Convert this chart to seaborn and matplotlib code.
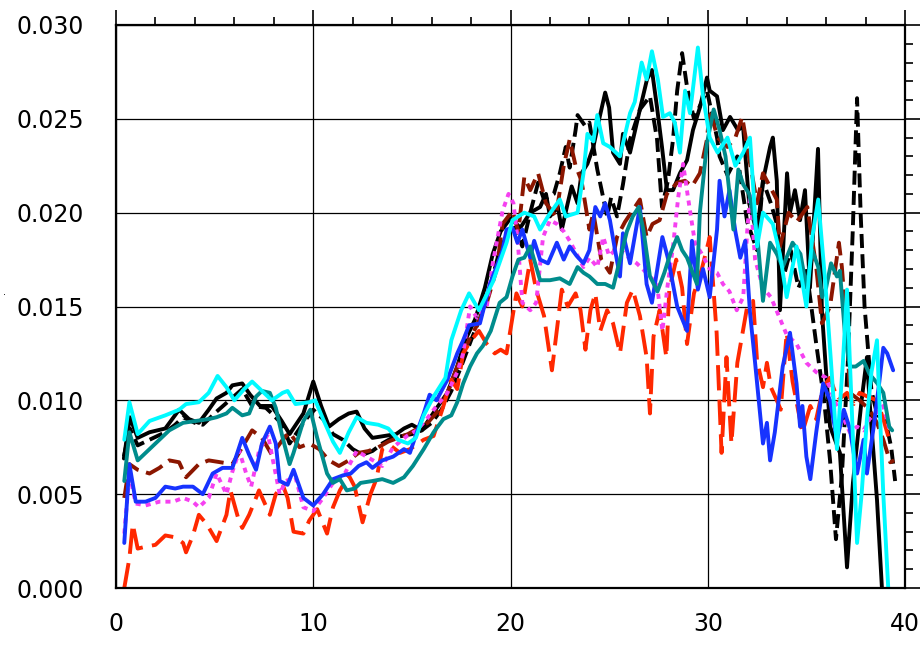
import matplotlib
matplotlib.use("Agg")
import matplotlib.pyplot as plt
from matplotlib.ticker import MultipleLocator, FormatStrFormatter
import seaborn as sns

# (x, value) samples for each curve
black_solid = [
    (0.4, 0.0069), (0.7, 0.0091), (1.1, 0.0080), (1.7, 0.0083), (2.5, 0.0085), (3.2, 0.0095),
    (3.7, 0.0090), (4.2, 0.0088), (4.7, 0.0095), (5.1, 0.0101), (5.6, 0.0104), (5.9, 0.0108),
    (6.4, 0.0109), (6.8, 0.0103), (7.3, 0.0097), (7.9, 0.0097), (8.4, 0.0089), (8.8, 0.0082),
    (9.5, 0.0093), (10.0, 0.0110), (10.4, 0.0097), (10.8, 0.0086), (11.3, 0.0090), (11.8, 0.0093),
    (12.2, 0.0094), (12.6, 0.0085), (13.0, 0.0080), (13.6, 0.0081), (14.2, 0.0082), (14.6, 0.0085),
    (15.0, 0.0087), (15.5, 0.0084), (16.2, 0.0095), (16.8, 0.0104), (17.3, 0.0118), (17.7, 0.0132),
    (18.2, 0.0143), (18.7, 0.0160), (19.1, 0.0178), (19.5, 0.0190), (20.0, 0.0197), (20.5, 0.0192),
    (21.0, 0.0200), (21.5, 0.0203), (21.8, 0.0210), (22.0, 0.0198), (22.4, 0.0203), (22.6, 0.0191),
    (22.9, 0.0205), (23.1, 0.0214), (23.4, 0.0205), (23.6, 0.0221), (23.9, 0.0226), (24.2, 0.0235),
    (24.5, 0.0250), (24.8, 0.0264), (25.0, 0.0256), (25.2, 0.0232), (25.55, 0.0226), (25.7, 0.0242),
    (26.06, 0.0232), (26.56, 0.0255), (26.92, 0.0271), (27.17, 0.0276), (27.43, 0.0256), (27.68, 0.0235),
    (27.93, 0.0212), (28.24, 0.0212), (28.59, 0.0221), (28.95, 0.0228), (29.25, 0.0244), (29.6, 0.0256),
    (29.96, 0.0272), (30.1, 0.0265), (30.47, 0.0262), (30.77, 0.0244), (31.13, 0.0251), (31.53, 0.0244),
    (31.79, 0.0246), (32.1, 0.0205), (32.5, 0.0189), (32.8, 0.0217), (33.16, 0.0235), (33.3, 0.0240),
    (33.5, 0.0217), (33.66, 0.0148), (34.02, 0.0221), (34.17, 0.0200), (34.42, 0.0212), (34.68, 0.0196),
    (34.93, 0.0212), (35.18, 0.0160), (35.59, 0.0234), (35.79, 0.0147), (36.0, 0.0115), (36.2, 0.0086),
    (36.7, 0.0072), (37.06, 0.0011), (37.36, 0.0056), (37.8, 0.0100), (38.07, 0.0123), (38.2, 0.0100),
    (38.58, 0.0047), (38.83, 0.0),
]

black_dashed = [
    (0.4, 0.0070), (0.7, 0.0085), (1.1, 0.0076), (1.7, 0.0079), (2.5, 0.0083), (3.0, 0.0087),
    (3.4, 0.0091), (4.0, 0.0088), (4.4, 0.0087), (5.1, 0.0094), (5.75, 0.0100), (6.4, 0.0106),
    (6.9, 0.0097), (7.6, 0.0096), (7.9, 0.0093), (8.45, 0.0087), (8.8, 0.0077), (9.5, 0.0088),
    (10.0, 0.0095), (10.5, 0.0090), (11.0, 0.0082), (11.5, 0.0079), (12.0, 0.0074), (12.5, 0.0071),
    (13.0, 0.0073), (13.5, 0.0077), (14.0, 0.0080), (14.5, 0.0081), (15.0, 0.0082), (15.5, 0.0084),
    (16.0, 0.0088), (16.5, 0.0095), (17.0, 0.0105), (17.5, 0.0118), (18.0, 0.0132), (18.5, 0.0145),
    (19.0, 0.0162), (19.4, 0.0178), (19.8, 0.0188), (20.2, 0.0192), (20.6, 0.0182), (21.0, 0.0200),
    (21.4, 0.0216), (21.7, 0.0207), (22.2, 0.0210), (22.5, 0.0221), (22.8, 0.0235), (23.0, 0.0224),
    (23.3, 0.0244), (23.4, 0.0252), (23.8, 0.0246), (24.0, 0.0248), (24.4, 0.0223), (24.7, 0.0208),
    (24.9, 0.0198), (25.1, 0.0208), (25.4, 0.0198), (25.7, 0.0215), (26.06, 0.0239), (26.56, 0.0255),
    (27.07, 0.0262), (27.43, 0.0239), (27.68, 0.0203), (27.98, 0.0217), (28.24, 0.0239), (28.45, 0.0265),
    (28.7, 0.0285), (28.95, 0.0267), (29.3, 0.0250), (29.96, 0.0265), (30.47, 0.0240), (30.6, 0.0230),
    (31.0, 0.0220), (31.5, 0.0230), (32.0, 0.0195), (32.5, 0.0180), (32.8, 0.0217), (33.2, 0.0205),
    (33.5, 0.0194), (33.8, 0.0164), (34.2, 0.0180), (34.6, 0.0160), (35.0, 0.0170), (35.5, 0.0130),
    (35.9, 0.0100), (36.2, 0.0068), (36.5, 0.0026), (36.8, 0.0060), (37.1, 0.0120), (37.35, 0.0190),
    (37.57, 0.0261), (37.75, 0.0200), (37.95, 0.0150), (38.3, 0.0105), (38.6, 0.0092), (39.0, 0.0090),
    (39.3, 0.0075), (39.5, 0.0057),
]

cyan_solid = [
    (0.42, 0.0079), (0.68, 0.0099), (1.1, 0.0082), (1.7, 0.0089), (2.5, 0.0092), (3.2, 0.0095),
    (3.55, 0.0098), (4.2, 0.0099), (4.7, 0.0104), (5.15, 0.0113), (5.6, 0.0107), (6.0, 0.0100),
    (6.5, 0.0106), (6.9, 0.0110), (7.4, 0.0105), (7.9, 0.0100), (8.45, 0.0104), (8.7, 0.0105),
    (9.1, 0.0098), (9.8, 0.0099), (10.1, 0.0100), (10.5, 0.0090), (11.0, 0.0078), (11.35, 0.0072),
    (11.8, 0.0083), (12.2, 0.0091), (12.7, 0.0088), (13.3, 0.0087), (13.8, 0.0085), (14.3, 0.0079),
    (14.8, 0.0077), (15.2, 0.0080), (15.6, 0.0092), (16.1, 0.0102), (16.7, 0.0112), (17.0, 0.0132),
    (17.5, 0.0148), (17.9, 0.0157), (18.4, 0.0148), (19.1, 0.0163), (19.8, 0.0184), (20.1, 0.0196),
    (20.7, 0.0200), (21.2, 0.0198), (21.5, 0.0191), (21.9, 0.0198), (22.5, 0.0207), (22.8, 0.0198),
    (23.4, 0.0200), (23.7, 0.0221), (23.9, 0.0242), (24.2, 0.0238), (24.4, 0.0252), (24.7, 0.0237),
    (25.04, 0.0235), (25.55, 0.0230), (26.06, 0.0253), (26.3, 0.0259), (26.65, 0.0280), (26.9, 0.0271),
    (27.17, 0.0286), (27.47, 0.0271), (27.73, 0.0251), (28.08, 0.0253), (28.33, 0.0248), (28.59, 0.0232),
    (28.85, 0.0265), (29.1, 0.0253), (29.5, 0.0288), (29.76, 0.0262), (30.1, 0.0240), (30.5, 0.0232),
    (31.0, 0.0240), (31.4, 0.0225), (31.8, 0.0232), (32.14, 0.0240), (32.5, 0.0182), (32.8, 0.0200),
    (33.3, 0.0194), (33.66, 0.0178), (34.0, 0.0155), (34.5, 0.0182), (35.0, 0.0150), (35.3, 0.0187),
    (35.6, 0.0207), (35.95, 0.0164), (36.25, 0.0120), (36.55, 0.0074), (36.85, 0.0120), (37.06, 0.0159),
    (37.36, 0.0080), (37.57, 0.0024), (37.8, 0.0050), (38.07, 0.0090), (38.3, 0.0115), (38.58, 0.0132),
    (38.7, 0.0100), (38.9, 0.0050), (39.15, 0.0),
]

darkred_dashed = [
    (0.42, 0.0048), (0.68, 0.0066), (1.1, 0.0063), (1.7, 0.0061), (2.2, 0.0064), (2.7, 0.0068),
    (3.2, 0.0067), (3.55, 0.0059), (4.2, 0.0066), (4.7, 0.0068), (5.3, 0.0067), (5.9, 0.0066),
    (6.4, 0.0075), (6.9, 0.0084), (7.4, 0.0080), (7.9, 0.0071), (8.45, 0.0079), (8.8, 0.0083),
    (9.3, 0.0075), (9.8, 0.0077), (10.3, 0.0074), (10.8, 0.0068), (11.3, 0.0065), (11.8, 0.0068),
    (12.3, 0.0072), (12.8, 0.0073), (13.3, 0.0075), (13.8, 0.0078), (14.3, 0.0080), (14.8, 0.0082),
    (15.3, 0.0085), (15.8, 0.0088), (16.3, 0.0094), (16.8, 0.0104), (17.3, 0.0118), (17.8, 0.0130),
    (18.3, 0.0140), (18.8, 0.0152), (19.3, 0.0170), (19.6, 0.0194), (20.1, 0.0201), (20.4, 0.0190),
    (20.7, 0.0219), (21.0, 0.0212), (21.4, 0.0221), (21.8, 0.0205), (22.3, 0.0198), (22.7, 0.0225),
    (23.0, 0.0239), (23.3, 0.0225), (23.6, 0.0217), (24.0, 0.0191), (24.2, 0.0200), (24.6, 0.0175),
    (25.04, 0.0168), (25.4, 0.0187), (25.8, 0.0195), (26.56, 0.0207), (26.9, 0.0187), (27.2, 0.0194),
    (27.56, 0.0196), (27.93, 0.0210), (28.45, 0.0216), (28.85, 0.0217), (29.2, 0.0214), (29.6, 0.0221),
    (29.96, 0.0239), (30.1, 0.0255), (30.5, 0.0240), (31.0, 0.0235), (31.4, 0.0240), (31.75, 0.0251),
    (32.0, 0.0235), (32.5, 0.0205), (32.8, 0.0221), (33.5, 0.0207), (33.66, 0.0182), (34.1, 0.0200),
    (34.5, 0.0195), (35.05, 0.0203), (35.5, 0.0171), (35.79, 0.0141), (36.2, 0.0150), (36.65, 0.0184),
    (36.8, 0.0171), (37.06, 0.0135), (37.2, 0.0104), (37.7, 0.0100), (38.2, 0.0095), (38.58, 0.0088),
    (38.9, 0.0079), (39.25, 0.0067), (39.45, 0.0068),
]

blue_solid = [
    (0.42, 0.0024), (0.68, 0.0066), (1.0, 0.0046), (1.5, 0.0046), (2.0, 0.0048), (2.5, 0.0054),
    (3.0, 0.0053), (3.4, 0.0054), (3.9, 0.0054), (4.4, 0.0050), (4.9, 0.0061), (5.4, 0.0064),
    (5.9, 0.0064), (6.4, 0.0080), (6.75, 0.0071), (7.1, 0.0063), (7.4, 0.0077), (7.8, 0.0086),
    (8.1, 0.0077), (8.3, 0.0057), (8.7, 0.0055), (9.0, 0.0063), (9.5, 0.0048), (10.0, 0.0044),
    (10.5, 0.0050), (11.0, 0.0058), (11.5, 0.0060), (11.9, 0.0061), (12.3, 0.0065), (12.7, 0.0067),
    (13.0, 0.0064), (13.5, 0.0068), (14.05, 0.0070), (14.6, 0.0074), (14.9, 0.0072), (15.25, 0.0083),
    (15.6, 0.0093), (15.9, 0.0103), (16.25, 0.0100), (16.8, 0.0111), (17.3, 0.0125), (17.6, 0.0132),
    (17.9, 0.0140), (18.45, 0.0141), (18.96, 0.0162), (19.6, 0.0180), (19.8, 0.0191), (20.1, 0.0192),
    (20.35, 0.0184), (20.6, 0.0191), (21.0, 0.0176), (21.2, 0.0185), (21.5, 0.0175), (21.9, 0.0173),
    (22.35, 0.0184), (22.7, 0.0175), (23.0, 0.0182), (23.35, 0.0177), (23.7, 0.0173), (24.0, 0.0180),
    (24.3, 0.0203), (24.55, 0.0198), (24.8, 0.0205), (25.04, 0.0196), (25.3, 0.0180), (25.55, 0.0166),
    (25.7, 0.0189), (26.06, 0.0173), (26.56, 0.0203), (26.9, 0.0162), (27.17, 0.0152), (27.7, 0.0187),
    (28.0, 0.0175), (28.45, 0.0150), (28.95, 0.0137), (29.2, 0.0185), (29.5, 0.0159), (29.76, 0.0170),
    (30.1, 0.0155), (30.47, 0.0191), (30.6, 0.0217), (30.85, 0.0198), (31.1, 0.0212), (31.4, 0.0190),
    (31.65, 0.0176), (31.9, 0.0185), (32.14, 0.0147), (32.4, 0.0120), (32.8, 0.0077), (33.0, 0.0088),
    (33.16, 0.0068), (33.4, 0.0083), (33.8, 0.0118), (34.17, 0.0136), (34.5, 0.0109), (34.68, 0.0086),
    (34.8, 0.0097), (35.0, 0.0070), (35.2, 0.0058), (35.5, 0.0083), (35.85, 0.0109), (36.2, 0.0100),
    (36.55, 0.0079), (36.9, 0.0095), (37.2, 0.0085), (37.57, 0.0061), (37.9, 0.0079), (38.07, 0.0061),
    (38.4, 0.0085), (38.7, 0.0110), (38.9, 0.0128), (39.1, 0.0125), (39.4, 0.0116),
]

magenta_dotted = [
    (0.42, 0.0029), (0.68, 0.0061), (1.0, 0.0045), (1.5, 0.0044), (2.2, 0.0046), (2.9, 0.0046),
    (3.4, 0.0048), (3.9, 0.0046), (4.2, 0.0043), (4.7, 0.0048), (5.1, 0.0061), (5.6, 0.0050),
    (5.9, 0.0062), (6.25, 0.0073), (6.6, 0.0061), (6.85, 0.0054), (7.25, 0.0073), (7.7, 0.0082),
    (7.9, 0.0071), (8.3, 0.0050), (8.6, 0.0057), (9.1, 0.0059), (9.5, 0.0043), (10.0, 0.0041),
    (10.5, 0.0048), (11.0, 0.0056), (11.6, 0.0061), (12.2, 0.0073), (12.7, 0.0070), (13.2, 0.0067),
    (13.5, 0.0065), (14.05, 0.0075), (14.75, 0.0081), (15.25, 0.0084), (15.75, 0.0090), (16.25, 0.0097),
    (16.8, 0.0104), (17.3, 0.0115), (17.6, 0.0125), (17.95, 0.0150), (18.3, 0.0144), (18.8, 0.0150),
    (19.1, 0.0173), (19.6, 0.0201), (19.9, 0.0210), (20.15, 0.0205), (20.35, 0.0187), (20.6, 0.0152),
    (21.0, 0.0148), (21.3, 0.0152), (21.65, 0.0187), (22.0, 0.0196), (22.35, 0.0194), (22.7, 0.0190),
    (23.0, 0.0185), (23.35, 0.0178), (23.7, 0.0171), (24.0, 0.0176), (24.4, 0.0171), (24.7, 0.0187),
    (25.0, 0.0177), (25.3, 0.0180), (25.6, 0.0180), (26.0, 0.0176), (26.4, 0.0173), (26.7, 0.0170),
    (27.07, 0.0166), (27.43, 0.0162), (27.7, 0.0137), (27.95, 0.0160), (28.24, 0.0182), (28.5, 0.0208),
    (28.75, 0.0226), (29.0, 0.0208), (29.35, 0.0184), (29.7, 0.0178), (30.1, 0.0170), (30.47, 0.0168),
    (30.77, 0.0162), (31.1, 0.0158), (31.47, 0.0148), (31.8, 0.0155), (32.0, 0.0190), (32.15, 0.0210),
    (32.4, 0.0175), (32.8, 0.0160), (33.2, 0.0155), (33.6, 0.0145), (34.0, 0.0135), (34.5, 0.0130),
    (35.0, 0.0120), (35.5, 0.0115), (36.0, 0.0112), (36.5, 0.0098), (36.9, 0.0090), (37.2, 0.0083),
    (37.57, 0.0086), (37.9, 0.0084), (38.2, 0.0090), (38.6, 0.0094), (38.9, 0.0097), (39.2, 0.0085),
]

red_dashed = [
    (0.42, 0.0), (0.68, 0.0016), (0.85, 0.0034), (1.1, 0.0021), (1.5, 0.0022), (2.0, 0.0023),
    (2.5, 0.0028), (3.0, 0.0027), (3.4, 0.0024), (3.55, 0.0019), (3.9, 0.0028), (4.2, 0.0039),
    (4.6, 0.0034), (5.1, 0.0025), (5.6, 0.0039), (5.8, 0.0052), (6.2, 0.0037), (6.4, 0.0032),
    (6.75, 0.0039), (7.25, 0.0052), (7.8, 0.0039), (8.1, 0.0050), (8.45, 0.0055), (8.7, 0.0048),
    (9.0, 0.0030), (9.5, 0.0029), (9.8, 0.0036), (10.2, 0.0042), (10.7, 0.0029), (11.0, 0.0043),
    (11.35, 0.0052), (11.8, 0.0060), (12.1, 0.0054), (12.5, 0.0035), (12.9, 0.0050), (13.2, 0.0058),
    (13.5, 0.0074), (13.9, 0.0076), (14.4, 0.0072), (14.9, 0.0074), (15.6, 0.0079), (16.1, 0.0081),
    (16.6, 0.0097), (17.0, 0.0111), (17.3, 0.0106), (17.6, 0.0125), (18.0, 0.0132), (18.4, 0.0137),
    (18.8, 0.0130), (19.2, 0.0125), (19.5, 0.0127), (19.8, 0.0125), (20.3, 0.0157), (20.6, 0.0150),
    (21.0, 0.0175), (21.3, 0.0159), (21.7, 0.0145), (22.1, 0.0116), (22.6, 0.0159), (22.9, 0.0150),
    (23.3, 0.0157), (23.55, 0.0148), (23.8, 0.0127), (24.05, 0.0148), (24.3, 0.0157), (24.55, 0.0137),
    (24.9, 0.0148), (25.2, 0.0141), (25.55, 0.0125), (25.9, 0.0152), (26.2, 0.0159), (26.56, 0.0145),
    (26.9, 0.0123), (27.07, 0.0093), (27.25, 0.0134), (27.56, 0.0148), (27.9, 0.0123), (28.05, 0.0159),
    (28.4, 0.0175), (28.7, 0.0160), (28.95, 0.0130), (29.3, 0.0157), (29.7, 0.0170), (30.1, 0.0187),
    (30.45, 0.0136), (30.7, 0.0072), (30.95, 0.0123), (31.2, 0.0077), (31.5, 0.0120), (32.0, 0.0150),
    (32.3, 0.0153), (32.5, 0.0121), (32.8, 0.0107), (33.0, 0.0120), (33.2, 0.0107), (33.5, 0.0100),
    (33.7, 0.0095), (34.0, 0.0136), (34.3, 0.0110), (34.8, 0.0083), (35.2, 0.0097), (35.5, 0.0090),
    (35.85, 0.0107), (36.2, 0.0112), (36.6, 0.0100), (37.06, 0.0104), (37.4, 0.0098), (37.7, 0.0104),
    (38.1, 0.0102), (38.58, 0.0100), (38.9, 0.0090), (39.2, 0.0079), (39.4, 0.0077),
]

teal_solid = [
    (0.42, 0.0057), (0.68, 0.0083), (1.1, 0.0068), (1.7, 0.0074), (2.2, 0.0079), (2.7, 0.0084),
    (3.4, 0.0088), (4.05, 0.0089), (4.7, 0.0090), (5.1, 0.0091), (5.6, 0.0093), (5.9, 0.0096),
    (6.4, 0.0092), (6.75, 0.0093), (7.1, 0.0102), (7.4, 0.0105), (7.8, 0.0104), (8.1, 0.0096),
    (8.45, 0.0080), (8.8, 0.0066), (9.0, 0.0072), (9.5, 0.0089), (9.85, 0.0095), (10.2, 0.0080),
    (10.7, 0.0061), (11.0, 0.0056), (11.35, 0.0058), (11.7, 0.0052), (12.1, 0.0053), (12.4, 0.0056),
    (13.0, 0.0057), (13.5, 0.0058), (14.05, 0.0056), (14.6, 0.0059), (15.05, 0.0065), (15.6, 0.0074),
    (16.1, 0.0083), (16.6, 0.0090), (17.0, 0.0092), (17.3, 0.0099), (17.6, 0.0109), (17.95, 0.0118),
    (18.3, 0.0125), (18.6, 0.0129), (19.0, 0.0137), (19.45, 0.0152), (19.8, 0.0155), (20.1, 0.0166),
    (20.4, 0.0175), (20.7, 0.0176), (21.0, 0.0182), (21.25, 0.0173), (21.5, 0.0164), (22.0, 0.0164),
    (22.5, 0.0165), (23.0, 0.0162), (23.4, 0.0171), (23.7, 0.0168), (24.0, 0.0166), (24.4, 0.0162),
    (24.8, 0.0162), (25.2, 0.0160), (25.55, 0.0175), (25.9, 0.0190), (26.2, 0.0198), (26.5, 0.0203),
    (26.75, 0.0190), (27.07, 0.0166), (27.45, 0.0158), (27.8, 0.0168), (28.1, 0.0178), (28.45, 0.0187),
    (28.7, 0.0180), (28.95, 0.0176), (29.45, 0.0162), (29.6, 0.0200), (29.96, 0.0237), (30.3, 0.0255),
    (30.6, 0.0244), (30.9, 0.0230), (31.3, 0.0191), (31.55, 0.0223), (31.8, 0.0215), (32.1, 0.0210),
    (32.5, 0.0189), (32.8, 0.0153), (33.16, 0.0184), (33.5, 0.0178), (33.8, 0.0171), (34.3, 0.0184),
    (34.7, 0.0178), (35.0, 0.0160), (35.3, 0.0180), (35.6, 0.0171), (35.8, 0.0155), (36.0, 0.0160),
    (36.25, 0.0173), (36.55, 0.0166), (36.7, 0.0169), (36.95, 0.0136), (37.2, 0.0118), (37.5, 0.0118),
    (37.9, 0.0121), (38.2, 0.0114), (38.6, 0.0109), (38.9, 0.0104), (39.2, 0.0086), (39.35, 0.0084),
]

x_ticks = [0, 10, 20, 30, 40]
y_ticks = [0.000, 0.005, 0.010, 0.015, 0.020, 0.025, 0.030]

sns.set_theme(style="white")
plt.rcParams["font.family"] = ["DejaVu Sans"]

fig = plt.figure(figsize=(9.22, 6.46), dpi=100)
ax = fig.add_axes([116 / 922, 1 - 588 / 646, 789 / 922, 563 / 646])

LW = 2.8
curves = [
    (black_solid, "black", "-"),
    (black_dashed, "black", (0, (3.6, 1.6))),
    (darkred_dashed, "#8B1600", (0, (4.8, 2.0))),
    (red_dashed, "#FF2800", (0, (6.5, 2.4))),
    (magenta_dotted, "#F540F0", (0, (1.3, 1.3))),
    (blue_solid, "#1733FF", "-"),
    (teal_solid, "#008C8C", "-"),
    (cyan_solid, "#00FAFF", "-"),
]

for pts, color, ls in curves:
    xs = [p[0] for p in pts]
    ys = [p[1] for p in pts]
    sns.lineplot(x=xs, y=ys, ax=ax, color=color, linewidth=LW, linestyle=ls,
                 estimator=None, sort=False, legend=False)

ax.set_xlim(0, 40)
ax.set_ylim(0, 0.030)
ax.set_xticks(x_ticks)
ax.set_yticks(y_ticks)
ax.xaxis.set_minor_locator(MultipleLocator(2))
ax.yaxis.set_minor_locator(MultipleLocator(0.001))
ax.yaxis.set_major_formatter(FormatStrFormatter("%.3f"))

ax.grid(True, which="major", color="black", linewidth=0.9)
ax.set_axisbelow(True)

for sp in ax.spines.values():
    sp.set_color("black")
    sp.set_linewidth(1.6)

ax.tick_params(which="both", direction="out", top=True, right=True,
               labeltop=False, labelright=False, color="black", width=1.2,
               labelcolor="black")
ax.tick_params(which="major", length=11, labelsize=17)
ax.tick_params(which="minor", length=5.5)
ax.tick_params(axis="y", which="major", pad=12)
ax.tick_params(axis="x", which="major", pad=6)

ax.set_xlabel("")
ax.set_ylabel("")
fig.text(3 / 922, 1 - 292 / 646, ".", fontsize=7, color="black", ha="left", va="center")

fig.savefig("out.png", dpi=100)
